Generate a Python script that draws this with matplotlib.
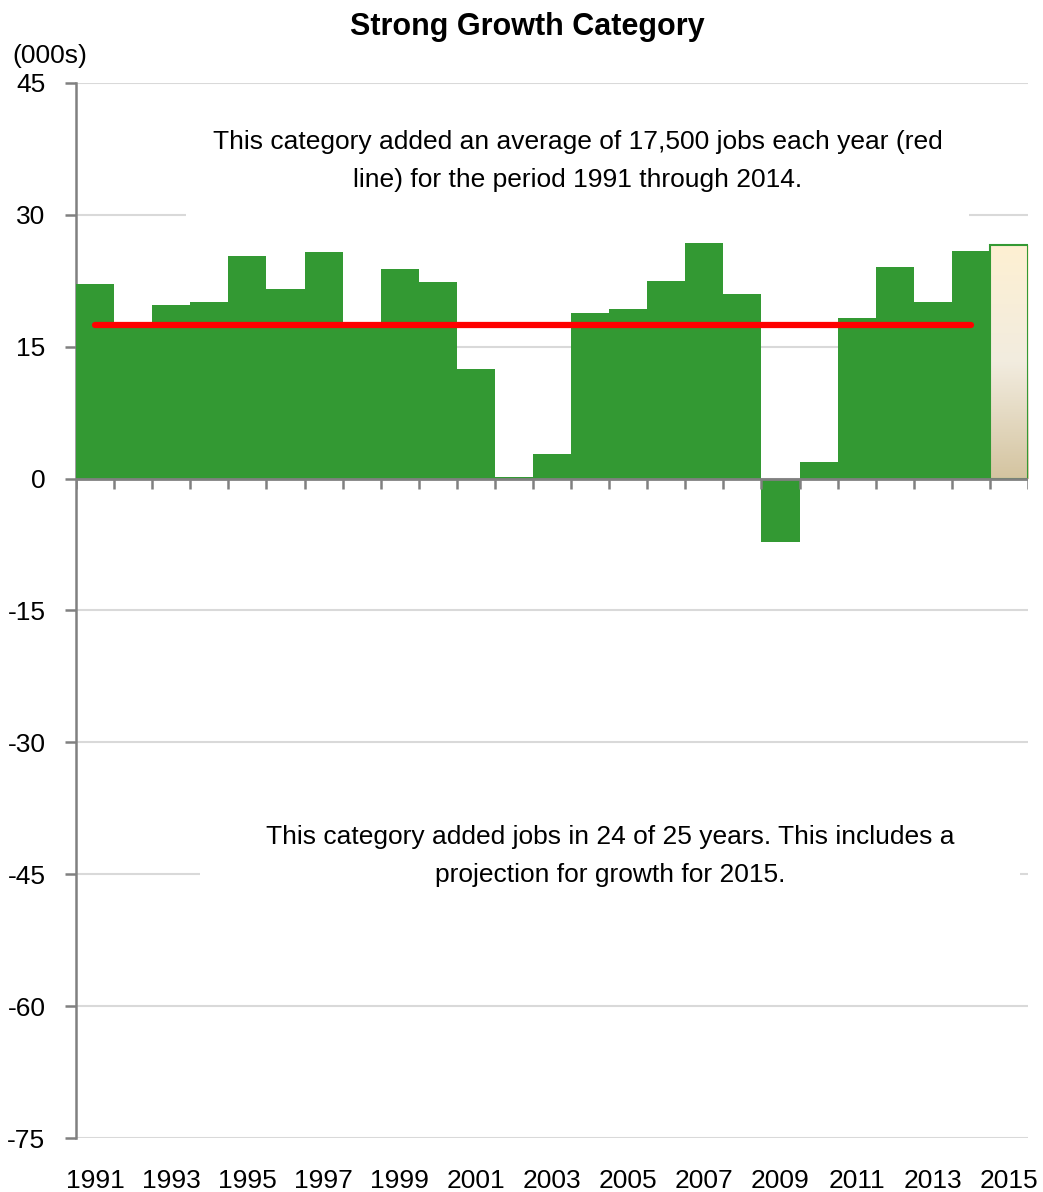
import numpy as np
import matplotlib
matplotlib.use("Agg")
import matplotlib.pyplot as plt
from matplotlib.colors import LinearSegmentedColormap

plt.rcParams['font.family'] = ['Liberation Sans', 'DejaVu Sans']

# data (thousands of jobs added per year)
years = list(range(1991, 2016))
jobs = [22.1, 17.4, 19.7, 20.1, 25.3, 21.6, 25.8, 17.1, 23.8, 22.4,
        12.5, 0.2, 2.8, 18.8, 19.3, 22.5, 26.8, 21.0, -7.2, 1.9,
        18.3, 24.1, 20.1, 25.85, 26.6]
projected_year = 2015
avg_growth = 17.5
avg_start, avg_end = 1991, 2014
yticks = [-75, -60, -45, -30, -15, 0, 15, 30, 45]
xlabels = [y for y in years if y % 2 == 1]

fig = plt.figure(figsize=(10.43, 11.92), dpi=100)
ax = fig.add_axes([0.0729, 0.0453, 0.9127, 0.8851])

grey = '#808080'
green = '#339933'

# bars
for yr, v in zip(years, jobs):
    if yr == projected_year:
        bar = ax.bar(yr, v, width=1.0, color='none', edgecolor=green, linewidth=1.5, zorder=4)[0]
        cmap = LinearSegmentedColormap.from_list('proj', ['#d4c4a0', '#f2ecdf', '#fef0d2'])
        grad = np.linspace(0, 1, 256).reshape(-1, 1)
        im = ax.imshow(grad, cmap=cmap, origin='lower', aspect='auto',
                       extent=[yr - 0.5, yr + 0.5, 0, v], zorder=3)
        im.set_clip_path(bar)
    else:
        ax.bar(yr, v, width=1.0, color=green, edgecolor='none', zorder=3)

# average line
ax.plot([avg_start, avg_end], [avg_growth, avg_growth], color='red', lw=4.5,
        solid_capstyle='round', zorder=6)

ax.set_xlim(years[0] - 0.5, years[-1] + 0.5)
ax.set_ylim(-75, 45)
ax.set_yticks(yticks)
ax.set_yticklabels([str(t) for t in yticks], fontsize=19)
ax.grid(axis='y', color='#d9d9d9', lw=1.5, zorder=0)
ax.set_axisbelow(True)

for s in ['top', 'right', 'bottom']:
    ax.spines[s].set_visible(False)
ax.spines['left'].set_color(grey)
ax.spines['left'].set_linewidth(1.8)
ax.tick_params(axis='y', direction='out', length=8, width=1.8, color=grey, pad=14)

ax.set_xticks(xlabels)
ax.set_xticklabels([str(x) for x in xlabels], fontsize=19)
ax.tick_params(axis='x', length=0, pad=22)

# zero axis with boundary ticks
bounds = np.arange(years[0] - 0.5, years[-1] + 1.0, 1.0)
ax.axhline(0, color=grey, lw=2, zorder=5)
ax.vlines(bounds, -1.15, 0, color=grey, lw=1.8, zorder=5)

# title and unit label
fig.text(0.506, 0.977, 'Strong Growth Category', ha='center', va='center',
         fontsize=22, fontweight='bold')
fig.text(0.012, 0.953, '(000s)', ha='left', va='center', fontsize=19)

# annotations
ax.text(0.527, 0.926, 'This category added an average of 17,500 jobs each year (red\n'
        'line) for the period 1991 through 2014.', transform=ax.transAxes,
        ha='center', va='center', fontsize=19, linespacing=1.75,
        bbox=dict(boxstyle='square,pad=1.0', fc='white', ec='none'), zorder=2)
ax.text(0.561, 0.267, 'This category added jobs in 24 of 25 years. This includes a\n'
        'projection for growth for 2015.', transform=ax.transAxes,
        ha='center', va='center', fontsize=19, linespacing=1.75,
        bbox=dict(boxstyle='square,pad=2.5', fc='white', ec='none'), zorder=2)

fig.savefig('out.png', dpi=100)
